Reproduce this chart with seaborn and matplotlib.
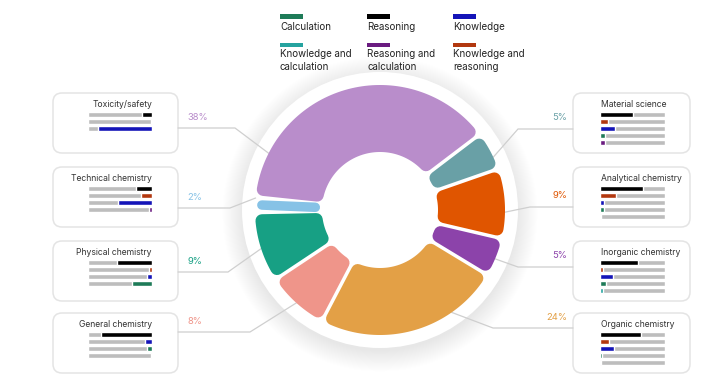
import numpy as np
import matplotlib
matplotlib.use("Agg")
import matplotlib.pyplot as plt
import seaborn as sns
import pandas as pd
from matplotlib.patches import Polygon, FancyBboxPatch, Circle, Rectangle

# ---------------- data ----------------
qtypes = ["Calculation", "Reasoning", "Knowledge",
          "Knowledge and calculation", "Reasoning and calculation", "Knowledge and reasoning"]
qlabels = ["Calculation", "Reasoning", "Knowledge",
           "Knowledge and\ncalculation", "Reasoning and\ncalculation", "Knowledge and\nreasoning"]
qcolors = ["#1E7B58", "#000000", "#1414B8", "#25A39F", "#6A1B80", "#B2380F"]

topics = ["Toxicity/safety", "Material science", "Analytical chemistry", "Inorganic chemistry",
          "Organic chemistry", "General chemistry", "Physical chemistry", "Technical chemistry"]
shares = [38, 5, 9, 5, 24, 8, 9, 2]
topic_colors = ["#B98DCB", "#69A0A6", "#E05500", "#8C43AA",
                "#E3A046", "#EF958A", "#17A084", "#86C2E6"]

tox_types = ["Reasoning", "Knowledge and reasoning", "Knowledge"]
tox_vals = [0.16, 0.02, 0.84]
mat_types = ["Reasoning", "Knowledge and reasoning", "Knowledge", "Calculation", "Reasoning and calculation"]
mat_vals = [0.50, 0.12, 0.23, 0.08, 0.08]
ana_types = ["Reasoning", "Knowledge and reasoning", "Knowledge", "Calculation", "Reasoning and calculation"]
ana_vals = [0.66, 0.25, 0.06, 0.06, 0.015]
ino_types = ["Reasoning", "Knowledge and reasoning", "Knowledge", "Calculation", "Knowledge and calculation"]
ino_vals = [0.58, 0.05, 0.20, 0.09, 0.05]
org_types = ["Reasoning", "Knowledge and reasoning", "Knowledge", "Calculation", "Reasoning and calculation"]
org_vals = [0.63, 0.14, 0.22, 0.03, 0.015]
gen_types = ["Reasoning", "Knowledge", "Calculation", "Reasoning and calculation"]
gen_vals = [0.80, 0.11, 0.08, 0.015]
phy_types = ["Reasoning", "Knowledge and reasoning", "Knowledge", "Calculation"]
phy_vals = [0.55, 0.04, 0.08, 0.31]
tec_types = ["Reasoning", "Knowledge and reasoning", "Knowledge", "Reasoning and calculation"]
tec_vals = [0.25, 0.17, 0.53, 0.05]

topic_types = [tox_types, mat_types, ana_types, ino_types, org_types, gen_types, phy_types, tec_types]
topic_vals = [tox_vals, mat_vals, ana_vals, ino_vals, org_vals, gen_vals, phy_vals, tec_vals]

# ---------------- layout ----------------
W, H, DPI = 702, 382, 100
side = ["L", "R", "R", "R", "R", "L", "L", "L"]
box_top = [93, 93, 167, 241, 313, 313, 241, 167]
lead_angle = [297, 65, 91, 113, 145, 222, 252, 275.5]
lead_elbow_x = [235, 518, 530, 518, 493, 250, 228, 230]
lead_y = [128, 129, 207, 267, 328, 332, 272, 208]
CX, CY = 380, 210
R_OUT, R_IN = 125, 58
GAP, RC = 3.5, 6.5
START = -84.0

sns.set_theme(style="white")
plt.rcParams["font.family"] = ["Inter", "DejaVu Sans"]

fig = plt.figure(figsize=(W / DPI, H / DPI), dpi=DPI)
ax = fig.add_axes([0, 0, 1, 1])
ax.set_xlim(0, W)
ax.set_ylim(H, 0)
ax.axis("off")

px2pt = 72.0 / DPI

# background circle with soft, diffuse shadow
for k in range(24):
    ax.add_patch(Circle((CX, CY + 4), 136 + (24 - k) * 0.9, color="black", alpha=0.004, lw=0, zorder=1))
ax.add_patch(Circle((CX, CY), 138, color="white", lw=0, zorder=2))


def pt(phi, r):
    return CX + r * np.sin(phi), CY - r * np.cos(phi)


# donut segments
cum = np.concatenate([[0], np.cumsum(shares)]) / float(sum(shares)) * 360.0 + START
for i, col in enumerate(topic_colors):
    a1, a2 = np.deg2rad(cum[i]), np.deg2rad(cum[i + 1])
    ro, ri = R_OUT - RC, R_IN + RC
    s = GAP / 2 + RC
    if (a2 - a1) > 2.4 * np.arcsin(s / ri):
        do, di = np.arcsin(s / ro), np.arcsin(s / ri)
        ao = np.linspace(a1 + do, a2 - do, 80)
        ai = np.linspace(a2 - di, a1 + di, 80)
        xs = np.concatenate([CX + ro * np.sin(ao), CX + ri * np.sin(ai)])
        ys = np.concatenate([CY - ro * np.cos(ao), CY - ri * np.cos(ai)])
        ax.add_patch(Polygon(np.column_stack([xs, ys]), closed=True, fc=col, ec=col,
                             lw=2 * RC * px2pt, joinstyle="round", zorder=4))
    else:
        am = (a1 + a2) / 2
        w = (R_OUT + R_IN) / 2 * (a2 - a1) - GAP
        w = max(w, 9.5)
        x1, y1 = pt(am, R_IN + 2 + w / 2)
        x2, y2 = pt(am, R_OUT - 2 - w / 2)
        ax.plot([x1, x2], [y1, y2], color=col, lw=w * px2pt, solid_capstyle="round", zorder=4)

# boxes, leaders, labels, mini bars
pal = {q: c for q, c in zip(qtypes, qcolors)}
for i, t in enumerate(topics):
    top = box_top[i]
    if side[i] == "L":
        bx0, bx1 = 53, 178
    else:
        bx0, bx1 = 573, 690
    ax.add_patch(FancyBboxPatch((bx0, top), bx1 - bx0, 60,
                                boxstyle="round,pad=0,rounding_size=9",
                                fc="white", ec="#E4E4E4", lw=1.1, zorder=3))
    # leader line
    ex, ey = pt(np.deg2rad(lead_angle[i]), R_OUT)
    sx = bx1 if side[i] == "L" else bx0
    ax.plot([sx, lead_elbow_x[i], ex], [lead_y[i], lead_y[i], ey],
            color="#CFCFCF", lw=0.9, zorder=3, solid_joinstyle="miter")
    # percent label
    if side[i] == "L":
        ax.text(187, lead_y[i] - 11, f"{shares[i]}%", color=topic_colors[i],
                fontsize=6.8, ha="left", va="center", zorder=5)
    else:
        ax.text(567, lead_y[i] - 11, f"{shares[i]}%", color=topic_colors[i],
                fontsize=6.8, ha="right", va="center", zorder=5)
    # title
    if side[i] == "L":
        ax.text(152, top + 11.5, t, fontsize=6.2, color="#333333", ha="right", va="center", zorder=5)
        mx0, mx1 = 88, 152
    else:
        ax.text(601, top + 11.5, t, fontsize=6.2, color="#333333", ha="left", va="center", zorder=5)
        mx0, mx1 = 600, 665
    n = len(topic_types[i])
    y0 = top + 21.5 - 3.5
    hgt = n * 7.0
    bax = fig.add_axes([mx0 / W, 1 - (y0 + hgt) / H, (mx1 - mx0) / W, hgt / H])
    bax.set_zorder(10)
    df = pd.DataFrame({"type": topic_types[i], "val": topic_vals[i], "full": [1.0] * n})
    sns.barplot(data=df, y="type", x="full", color="#BDBDBD", saturation=1, width=0.7,
                errorbar=None, ax=bax, orient="h")
    sns.barplot(data=df, y="type", x="val", hue="type", palette=pal, saturation=1, width=0.7,
                errorbar=None, ax=bax, orient="h", legend=False)
    if side[i] == "L":
        bax.set_xlim(1, 0)
    else:
        bax.set_xlim(0, 1)
    bax.set_ylim(n - 0.5, -0.5)
    bax.axis("off")
    bax.patch.set_alpha(0)

# legend
leg_x = [280, 367, 453]
for j, (lab, col) in enumerate(zip(qlabels, qcolors)):
    r, c = divmod(j, 3)
    sy = 14.3 if r == 0 else 43.0
    ax.add_patch(Rectangle((leg_x[c], sy), 23, 4.3, fc=col, ec="none", zorder=5))
    ty = 22 if r == 0 else 49
    ax.text(leg_x[c], ty, lab, fontsize=7, color="#222222", ha="left", va="top",
            linespacing=1.35, zorder=5)

fig.savefig("out.png", dpi=DPI, facecolor="white")
